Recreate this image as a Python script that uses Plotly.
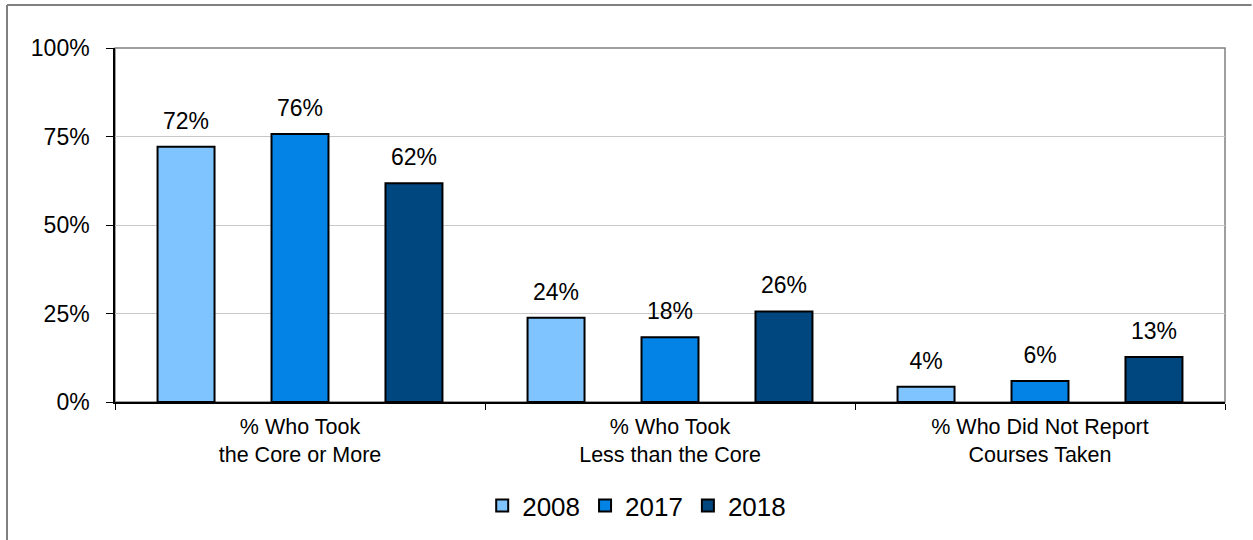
import plotly.graph_objects as go

# =============================================================================
#   DATA
# =============================================================================

CATEGORIES = [
    "% Who Took<br>the Core or More",
    "% Who Took<br>Less than the Core",
    "% Who Did Not Report<br>Courses Taken",
]

YEARS = ["2008", "2017", "2018"]

VALUES_2008 = [72.1, 23.8, 4.3]
VALUES_2017 = [75.7, 18.3, 5.9]
VALUES_2018 = [61.8, 25.6, 12.7]

Y_TICKS = [0, 25, 50, 75, 100]

# =============================================================================
#   STYLE
# =============================================================================

COLORS = {"2008": "#80C4FF", "2017": "#0283E5", "2018": "#00467F"}
FONT = "Liberation Sans, Arial, sans-serif"

series = {"2008": VALUES_2008, "2017": VALUES_2017, "2018": VALUES_2018}

fig = go.Figure()

# Bars
for year in YEARS:
    fig.add_trace(
        go.Bar(
            x=CATEGORIES,
            y=series[year],
            name=year,
            offsetgroup=year,
            marker=dict(color=COLORS[year], line=dict(color="black", width=2)),
        )
    )

# Value labels, placed above the bars with a transparent marker as spacer
for year in YEARS:
    fig.add_trace(
        go.Scatter(
            x=CATEGORIES,
            y=series[year],
            offsetgroup=year,
            mode="markers+text",
            text=[f"{v:.0f}%" for v in series[year]],
            textposition="top center",
            textfont=dict(size=23, color="black", family=FONT),
            marker=dict(size=18, color="rgba(0,0,0,0)"),
            showlegend=False,
            hoverinfo="skip",
            cliponaxis=False,
        )
    )

fig.update_layout(
    width=1253,
    height=540,
    barmode="group",
    bargap=0.076,
    bargroupgap=0.5,
    scattermode="group",
    scattergap=0.076,
    plot_bgcolor="white",
    paper_bgcolor="white",
    font=dict(family=FONT, color="black"),
    margin=dict(l=115, r=28, t=48, b=138, autoexpand=False),
    legend=dict(
        orientation="h",
        x=0.47,
        xanchor="center",
        y=-0.226,
        yanchor="top",
        font=dict(size=26, family=FONT),
        traceorder="normal",
    ),
    shapes=[
        # plot area border
        dict(type="rect", xref="paper", yref="paper", x0=0, x1=1, y0=0, y1=1,
             line=dict(color="#808080", width=1.5), layer="below"),
        # outer chart border (left and top edges visible)
        dict(type="line", xref="paper", yref="paper", x0=-0.0973, x1=-0.0973,
             y0=1.1215, y1=-0.45, line=dict(color="#808080", width=2)),
        dict(type="line", xref="paper", yref="paper", x0=-0.0973, x1=1.024,
             y0=1.1215, y1=1.1215, line=dict(color="#808080", width=2)),
    ],
)

fig.update_yaxes(
    range=[0, 100],
    tickvals=Y_TICKS,
    ticktext=[f"{t}%" for t in Y_TICKS],
    tickfont=dict(size=23, family=FONT),
    ticks="outside",
    ticklen=7,
    tickcolor="black",
    ticklabelstandoff=12,
    showline=True,
    linecolor="black",
    linewidth=1.5,
    showgrid=True,
    gridcolor="#C8C8C8",
    gridwidth=1,
    zeroline=False,
)

fig.update_xaxes(
    tickfont=dict(size=21.5, family=FONT),
    ticks="outside",
    tickson="boundaries",
    ticklen=6,
    tickcolor="black",
    ticklabelstandoff=4,
    showline=True,
    linecolor="black",
    linewidth=1.5,
    showgrid=False,
)

# The page body has a default margin; remove it so the figure sits at (0, 0)
fig.write_html(
    "out.html",
    config={"displayModeBar": False},
    post_script="document.body.style.margin = '0';",
)
